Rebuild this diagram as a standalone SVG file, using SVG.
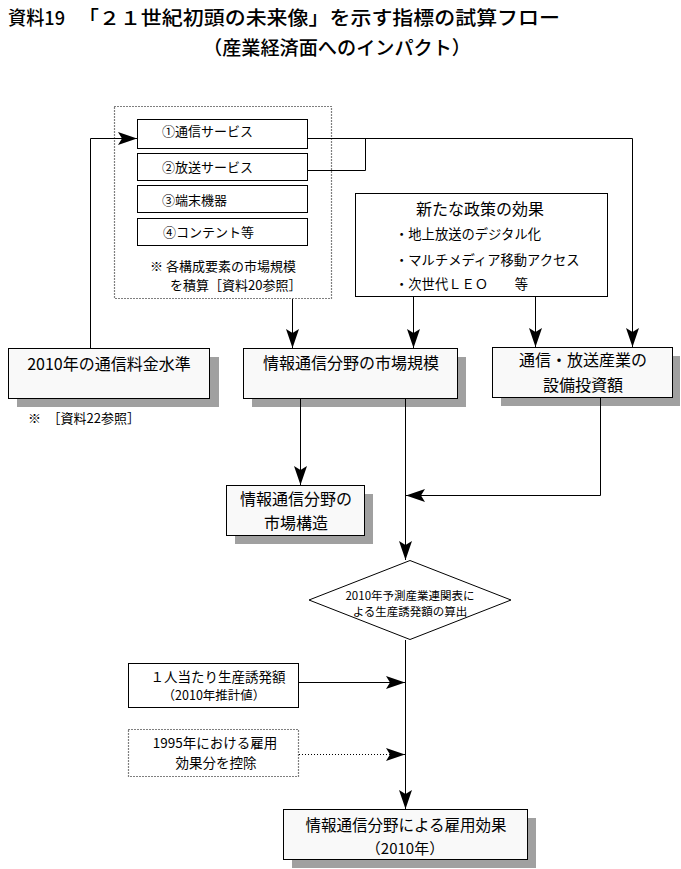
<svg xmlns="http://www.w3.org/2000/svg" width="681" height="869" viewBox="0 0 681 869">
<style>
text{font-family:"Noto Sans CJK JP","Noto Sans CJK SC",sans-serif;fill:#000;dominant-baseline:central}
.title{font-size:19px;font-weight:500}
.t16{font-size:16px}
.t14{font-size:14px}
.t13{font-size:13px}
.t12{font-size:12px}
.m{text-anchor:middle}
.box{fill:#fff;stroke:#000;stroke-width:1}
.sbox{fill:#f9f9f9;stroke:#000;stroke-width:1}
.shadow{fill:#a0a0a0}
.dotbox{fill:#fff;stroke:#000;stroke-width:1.2;stroke-dasharray:1 2}
.ln{fill:none;stroke:#000;stroke-width:1}
.dl{fill:none;stroke:#000;stroke-width:1.2;stroke-dasharray:1 2}
</style>
<defs>
<marker id="ah" markerUnits="userSpaceOnUse" markerWidth="20" markerHeight="14" refX="19" refY="6.5" orient="auto">
<path d="M0,0 L19,6.5 L0,13 L4,6.5 Z" fill="#000"/>
</marker>
</defs>
<rect width="681" height="869" fill="#fff"/>

<g id="title">
<text class="title" x="8" y="16" textLength="57" lengthAdjust="spacingAndGlyphs">資料19</text>
<text class="title" x="78" y="16" textLength="482" lengthAdjust="spacingAndGlyphs">「２１世紀初頭の未来像」を示す指標の試算フロー</text>
<text class="title" x="203" y="46" textLength="268" lengthAdjust="spacingAndGlyphs">（産業経済面へのインパクト）</text>
</g>

<g id="group-components">
<rect class="dotbox" x="114.5" y="106.5" width="217" height="192"/>
<text class="t13" x="150" y="265" xml:space="preserve">※ 各構成要素の市場規模</text>
<text class="t13" x="170" y="284">を積算［資料20参照］</text>
</g>
<g id="n-tsushin">
<rect class="box" x="137.5" y="119.5" width="170" height="29"/>
<text class="t13" x="162" y="130">①通信サービス</text>
</g>
<g id="n-hoso">
<rect class="box" x="137.5" y="153.5" width="170" height="27"/>
<text class="t13" x="162" y="166">②放送サービス</text>
</g>
<g id="n-tanmatsu">
<rect class="box" x="137.5" y="185.5" width="170" height="27"/>
<text class="t13" x="162" y="199">③端末機器</text>
</g>
<g id="n-content">
<rect class="box" x="137.5" y="218.5" width="170" height="27"/>
<text class="t13" x="163" y="231">④コンテント等</text>
</g>

<g id="n-policy">
<rect class="box" x="355.5" y="193.5" width="252" height="103"/>
<text class="t16 m" x="480" y="208">新たな政策の効果</text>
<text class="t13" x="395" y="233" style="font-size:13.3px">・地上放送のデジタル化</text>
<text class="t13" x="395" y="259" style="font-size:13.3px">・マルチメディア移動アクセス</text>
<text class="t13" x="395" y="283" style="font-size:13.3px" xml:space="preserve">・次世代ＬＥＯ　　等</text>
</g>

<g id="n-price">
<rect class="shadow" x="17" y="357" width="202" height="50"/>
<rect class="sbox" x="8.5" y="348.5" width="201" height="50"/>
<text class="t16 m" x="109" y="363">2010年の通信料金水準</text>
<text class="t13" x="28" y="417" xml:space="preserve">※　［資料22参照］</text>
</g>

<g id="n-market">
<rect class="shadow" x="252" y="357" width="214" height="50"/>
<rect class="sbox" x="243.5" y="348.5" width="214" height="50"/>
<text class="t16 m" x="351" y="362">情報通信分野の市場規模</text>
</g>

<g id="n-invest">
<rect class="shadow" x="501" y="356" width="179" height="50"/>
<rect class="sbox" x="492.5" y="347.5" width="180" height="50"/>
<text class="t16 m" x="583" y="359">通信・放送産業の</text>
<text class="t16 m" x="583" y="384">設備投資額</text>
</g>

<g id="n-structure">
<rect class="shadow" x="235" y="494" width="138" height="50"/>
<rect class="sbox" x="226.5" y="485.5" width="138" height="50"/>
<text class="t16 m" x="296" y="498">情報通信分野の</text>
<text class="t16 m" x="296" y="522">市場構造</text>
</g>

<g id="n-calc">
<polygon class="box" points="410,560.5 511,600 410,639.5 309,600"/>
<text class="m" x="410" y="595" style="font-size:11.5px">2010年予測産業連関表に</text>
<text class="m" x="410" y="611" style="font-size:11.5px">よる生産誘発額の算出</text>
</g>

<g id="n-perperson">
<rect class="box" x="128.5" y="663.5" width="170" height="44"/>
<text class="m" x="218" y="676" style="font-size:13.5px">１人当たり生産誘発額</text>
<text class="m" x="214" y="694" style="font-size:12.5px">（2010年推計値）</text>
</g>

<g id="n-1995">
<rect class="dotbox" x="128.5" y="729.5" width="170" height="47"/>
<text class="m" x="215" y="742" style="font-size:13.5px">1995年における雇用</text>
<text class="m" x="216" y="762" style="font-size:13.5px">効果分を控除</text>
</g>

<g id="n-employment">
<rect class="shadow" x="292" y="818" width="244" height="50"/>
<rect class="sbox" x="283.5" y="809.5" width="244" height="50"/>
<text class="m" x="406" y="824" style="font-size:15.5px">情報通信分野による雇用効果</text>
<text class="m" x="405" y="847" style="font-size:15px">（2010年）</text>
</g>

<g id="connectors">
<polyline class="ln" points="90.5,348 90.5,138.5 137,138.5" marker-end="url(#ah)"/>
<polyline class="ln" points="308,138.5 632.5,138.5 632.5,347" marker-end="url(#ah)"/>
<polyline class="ln" points="308,170.5 365.5,170.5 365.5,138.5"/>
<line class="ln" x1="292.5" y1="299" x2="292.5" y2="348" marker-end="url(#ah)"/>
<line class="ln" x1="413.5" y1="297" x2="413.5" y2="348" marker-end="url(#ah)"/>
<line class="ln" x1="535.5" y1="297" x2="535.5" y2="347" marker-end="url(#ah)"/>
<line class="ln" x1="300.5" y1="399" x2="300.5" y2="485" marker-end="url(#ah)"/>
<line class="ln" x1="405.5" y1="399" x2="405.5" y2="560" marker-end="url(#ah)"/>
<polyline class="ln" points="600.5,398 600.5,495.5 406,495.5" marker-end="url(#ah)"/>
<line class="ln" x1="405.5" y1="640" x2="405.5" y2="809" marker-end="url(#ah)"/>
<line class="ln" x1="299" y1="682.5" x2="405" y2="682.5" marker-end="url(#ah)"/>
<line class="dl" x1="299" y1="754.5" x2="405" y2="754.5" marker-end="url(#ah)"/>
</g>
</svg>
